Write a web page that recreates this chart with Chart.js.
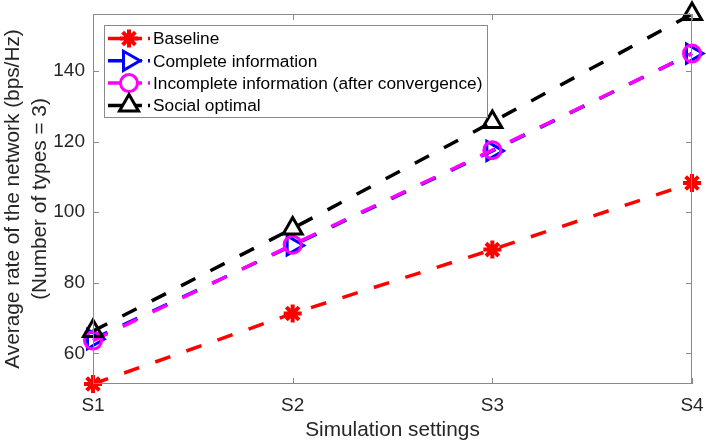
<!DOCTYPE html>
<html>
<head>
<meta charset="utf-8">
<script src="https://cdn.jsdelivr.net/npm/chart.js@4/dist/chart.umd.min.js"></script>
<style>
  html, body { margin: 0; padding: 0; background: #fff; }
  .wrap { width: 706px; height: 443px; position: relative; }
</style>
</head>
<body>
<div class="wrap"><canvas id="rate-chart"></canvas></div>
<script>
'use strict';

// values
const settings = ['S1', 'S2', 'S3', 'S4'];
const baseline = [51.3, 71.3, 89.4, 108.3];
const completeInfo = [64.0, 90.6, 117.4, 145.0];
const incompleteInfo = [63.6, 90.8, 117.6, 145.0];
const socialOptimal = [66.3, 95.4, 125.6, 156.2];
const yTicks = [60, 80, 100, 120, 140];

const seriesNames = [
  'Baseline',
  'Complete information',
  'Incomplete information (after convergence)',
  'Social optimal'
];

const FONT = '"Liberation Sans", Arial, sans-serif';
const axisGrey = '#8a8a8a';
const textGrey = '#262626';

const ctx = document.getElementById('rate-chart').getContext('2d');

// box round the axes with inward ticks, like matlab
const boxPlugin = {
  id: 'boxPlugin',
  afterDatasetsDraw(chart) {
    const {ctx, chartArea: a, scales} = chart;
    ctx.save();
    ctx.strokeStyle = axisGrey;
    ctx.lineWidth = 1;
    ctx.strokeRect(a.left + 0.5, a.top + 0.5, a.right - a.left - 1, a.bottom - a.top - 1);
    const tl = 6;
    ctx.beginPath();
    scales.x.ticks.forEach((t, i) => {
      const px = Math.round(scales.x.getPixelForTick(i)) + 0.5;
      ctx.moveTo(px, a.bottom); ctx.lineTo(px, a.bottom - tl);
      ctx.moveTo(px, a.top); ctx.lineTo(px, a.top + tl);
    });
    scales.y.ticks.forEach(t => {
      const py = Math.round(scales.y.getPixelForValue(t.value)) + 0.5;
      ctx.moveTo(a.left, py); ctx.lineTo(a.left + tl, py);
      ctx.moveTo(a.right, py); ctx.lineTo(a.right - tl, py);
    });
    ctx.stroke();
    ctx.restore();
  }
};

// legend box in the upper left of the axes
const legendPlugin = {
  id: 'legendPlugin',
  afterDraw(chart) {
    const {ctx, chartArea: a} = chart;
    const x0 = a.left + 11, y0 = a.top + 11;
    const w = 383, rowH = 22.3, h = 92;
    ctx.save();
    ctx.fillStyle = '#fff';
    ctx.fillRect(x0, y0, w, h);
    ctx.strokeStyle = axisGrey;
    ctx.lineWidth = 1;
    ctx.strokeRect(x0 + 0.5, y0 + 0.5, w, h);
    ctx.font = '17.3px ' + FONT;
    ctx.textBaseline = 'middle';
    chart.data.datasets.forEach((ds, i) => {
      const cy = y0 + 13.5 + i * rowH;
      ctx.strokeStyle = ds.borderColor;
      ctx.lineWidth = ds.borderWidth;
      ctx.setLineDash([14, 6]);
      ctx.beginPath();
      ctx.moveTo(x0 + 4, cy);
      ctx.lineTo(x0 + 46, cy);
      ctx.stroke();
      ctx.setLineDash([]);
      ctx.fillStyle = '#fff';
      ctx.lineWidth = ds.pointBorderWidth;
      Chart.helpers.drawPoint(ctx, {
        pointStyle: ds.pointStyle,
        radius: ds.pointRadius,
        rotation: ds.pointRotation || 0,
        borderWidth: ds.pointBorderWidth
      }, x0 + 25, cy);
      ctx.fillStyle = '#000';
      ctx.fillText(ds.label, x0 + 49, cy + 1);
    });
    ctx.restore();
  }
};

function lineSet(label, data, color, style, radius, extra) {
  return Object.assign({
    label: label,
    data: data,
    borderColor: color,
    backgroundColor: 'transparent',
    borderWidth: 3.5,
    borderDash: [16, 17],
    pointStyle: style,
    pointRadius: radius,
    pointHoverRadius: radius,
    pointBorderColor: color,
    pointBackgroundColor: 'transparent',
    pointBorderWidth: 3,
    clip: false,
    tension: 0
  }, extra);
}

const chart = new Chart(ctx, {
  type: 'line',
  data: {
    labels: settings,
    datasets: [
      lineSet(seriesNames[0], baseline, '#ff0000', 'star', 9, {order: 3, pointBorderWidth: 4}),
      lineSet(seriesNames[1], completeInfo, '#0000ff', 'triangle', 11, {order: 2, pointRotation: 90}),
      lineSet(seriesNames[2], incompleteInfo, '#ff00ff', 'circle', 8.5, {order: 1}),
      lineSet(seriesNames[3], socialOptimal, '#000000', 'triangle', 11, {order: 0})
    ]
  },
  options: {
    responsive: true,
    maintainAspectRatio: false,
    animation: false,
    events: [],
    layout: { padding: { left: 0, top: 14, right: 13, bottom: 0 } },
    plugins: {
      legend: { display: false },
      tooltip: { enabled: false }
    },
    scales: {
      x: {
        type: 'category',
        offset: false,
        grid: { display: false, drawTicks: false },
        border: { display: false },
        ticks: { color: textGrey, font: { family: FONT, size: 19 }, padding: 10, maxRotation: 0 },
        title: {
          display: true,
          text: 'Simulation settings',
          color: textGrey,
          font: { family: FONT, size: 20.8 },
          padding: { top: 0, bottom: 0 }
        },
        afterFit(scale) {
          scale.height = 59;
          scale.paddingLeft = 0;
          scale.paddingRight = 0;
        }
      },
      y: {
        min: Math.min(...baseline),
        max: Math.max(...socialOptimal),
        afterBuildTicks(scale) { scale.ticks = yTicks.map(v => ({value: v})); },
        grid: { display: false, drawTicks: false },
        border: { display: false },
        ticks: { color: textGrey, font: { family: FONT, size: 19 }, padding: 8 },
        title: {
          display: true,
          text: ['Average rate of the network (bps/Hz)', '(Number of types = 3)'],
          color: textGrey,
          font: { family: FONT, size: 20.8, lineHeight: 1.3 },
          padding: { top: 0, bottom: 0 }
        },
        afterFit(scale) {
          scale.width = 93;
          scale.paddingTop = 0;
          scale.paddingBottom = 0;
        }
      }
    }
  },
  plugins: [boxPlugin, legendPlugin]
});
</script>
</body>
</html>
